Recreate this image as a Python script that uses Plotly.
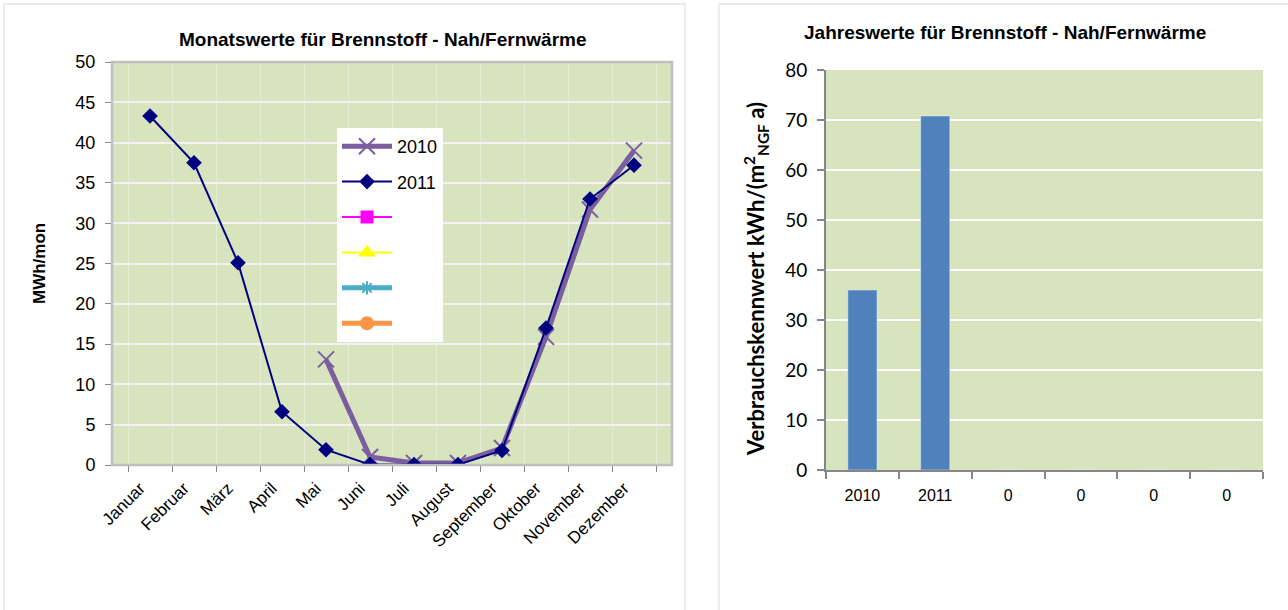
import plotly.graph_objects as go

# Monthly district-heating consumption (MWh/mon)
months = ["Januar", "Februar", "März", "April", "Mai", "Juni", "Juli",
          "August", "September", "Oktober", "November", "Dezember"]
values_2010 = [None, None, None, None, 13.1, 1.0, 0.25, 0.25, 2.1, 15.9, 31.7, 39.0]
values_2011 = [43.3, 37.5, 25.1, 6.6, 1.9, 0.05, 0.05, 0.05, 1.8, 17.0, 33.0, 37.2]

# Annual consumption index kWh/(m² NGF a)
years = ["2010", "2011", "0", "0", "0", "0"]
annual_values = [36.0, 70.8, 0, 0, 0, 0]

W, H = 1288, 610
FONT = "Liberation Sans, Arial, sans-serif"
PLOT_BG = "#D7E4BD"
AXIS_GRAY = "#868686"


def px_x(v):
    return v / W


def px_y(v):
    return 1 - v / H


fig = go.Figure()

# ---- left: monthly line chart ----
fig.add_trace(go.Scatter(
    x=months, y=values_2010, name="2010", mode="lines+markers",
    line=dict(color="#7B5EA0", width=5),
    marker=dict(symbol="x-thin", size=16, line=dict(color="#7B5EA0", width=2)),
    legendgroup="a", xaxis="x", yaxis="y", connectgaps=False,
))
fig.add_trace(go.Scatter(
    x=months, y=values_2011, name="2011", mode="lines+markers",
    line=dict(color="#000080", width=2),
    marker=dict(symbol="diamond", size=12, color="#000080"),
    legendgroup="b", xaxis="x", yaxis="y",
))

# unused series slots (no data)
empty_series = [
    dict(color="#FF00FF", width=2, symbol="square", size=11),
    dict(color="#FFFF00", width=2, symbol="triangle-up", size=12),
    dict(color="#4BACC6", width=5, symbol="asterisk", size=11),
    dict(color="#F79646", width=5, symbol="circle", size=12),
]
for i, s in enumerate(empty_series):
    fig.add_trace(go.Scatter(
        x=[None], y=[None], name=" ", mode="lines+markers",
        line=dict(color=s["color"], width=s["width"]),
        marker=dict(symbol=s["symbol"], size=s["size"], color=s["color"],
                    line=dict(color=s["color"], width=2)),
        legendgroup=f"e{i}", xaxis="x", yaxis="y",
    ))

# ---- right: annual bar chart ----
fig.add_trace(go.Bar(
    x=list(range(len(years))), y=annual_values, marker_color="#4F81BD",
    width=0.4, showlegend=False, xaxis="x2", yaxis="y2",
))

left_dom_x = [px_x(112), px_x(672)]
left_dom_y = [px_y(465), px_y(62)]
right_dom_x = [px_x(826), px_x(1263)]
right_dom_y = [px_y(470), px_y(70)]

fig.update_layout(
    width=W, height=H, autosize=False,
    margin=dict(l=0, r=0, t=0, b=0, pad=0, autoexpand=False),
    paper_bgcolor="white",
    plot_bgcolor=PLOT_BG,
    font=dict(family=FONT, color="black"),
    xaxis=dict(
        domain=left_dom_x, anchor="y", type="category", automargin=False,
        tickson="boundaries", ticks="outside", ticklen=6, tickcolor=AXIS_GRAY,
        showgrid=True, gridcolor="#E6EDD6", gridwidth=1,
        tickangle=-45, tickfont=dict(size=17, family=FONT),
        ticklabelstandoff=9, ticklabelshift=-10,
        showline=False, zeroline=False,
    ),
    yaxis=dict(
        domain=left_dom_y, anchor="x", range=[0, 50], dtick=5, automargin=False,
        ticks="outside", ticklen=6, tickcolor=AXIS_GRAY,
        showgrid=True, gridcolor="#F2F2F2", gridwidth=1.5,
        tickfont=dict(size=18, family=FONT), ticklabelstandoff=6,
        showline=False, zeroline=False,
    ),
    xaxis2=dict(
        domain=right_dom_x, anchor="y2", range=[-0.5, len(years) - 0.5],
        automargin=False,
        tickmode="array", tickvals=list(range(len(years))), ticktext=years,
        ticks="", showgrid=False, zeroline=False,
        showline=True, linecolor=AXIS_GRAY, linewidth=2,
        tickfont=dict(size=16, family=FONT), ticklabelstandoff=10,
        minor=dict(tickmode="array",
                   tickvals=[i - 0.5 for i in range(len(years) + 1)],
                   ticks="outside", ticklen=7, tickcolor=AXIS_GRAY, tickwidth=2,
                   showgrid=False),
    ),
    yaxis2=dict(
        domain=right_dom_y, anchor="x2", range=[0, 80], dtick=10,
        automargin=False,
        ticks="outside", ticklen=7, tickcolor=AXIS_GRAY, tickwidth=2,
        showgrid=True, gridcolor="white", gridwidth=2,
        showline=True, linecolor=AXIS_GRAY, linewidth=2,
        tickfont=dict(size=19, family="Lato, sans-serif"), ticklabelstandoff=6,
        zeroline=False,
    ),
    legend=dict(
        x=px_x(337), y=px_y(128), xanchor="left", yanchor="top",
        bgcolor="white", borderwidth=0,
        font=dict(size=18, family=FONT),
        tracegroupgap=9, itemwidth=50,
    ),
    bargap=0.6,
)

# panel frames
fig.add_shape(type="rect", xref="paper", yref="paper",
              x0=px_x(4), x1=px_x(685), y0=px_y(640), y1=px_y(4),
              line=dict(color="#D9D9D9", width=1), fillcolor="rgba(0,0,0,0)",
              layer="below")
fig.add_shape(type="rect", xref="paper", yref="paper",
              x0=px_x(719), x1=px_x(1310), y0=px_y(640), y1=px_y(4),
              line=dict(color="#D9D9D9", width=1), fillcolor="rgba(0,0,0,0)",
              layer="below")
# plot-area border of the monthly chart
fig.add_shape(type="rect", xref="x domain", yref="y domain",
              x0=0, x1=1, y0=0, y1=1,
              line=dict(color="#BFBFBF", width=2.5), fillcolor="rgba(0,0,0,0)",
              layer="above")

# titles
title_font = dict(size=19, family=FONT)
fig.add_annotation(text="<b>Monatswerte für Brennstoff - Nah/Fernwärme</b>",
                   x=px_x(383), y=px_y(40), xref="paper", yref="paper",
                   xanchor="center", yanchor="middle",
                   showarrow=False, font=title_font)
fig.add_annotation(text="<b>Jahreswerte für Brennstoff - Nah/Fernwärme</b>",
                   x=px_x(1005), y=px_y(32), xref="paper", yref="paper",
                   xanchor="center", yanchor="middle",
                   showarrow=False, font=title_font)
fig.add_annotation(text="<b>MWh/mon</b>", textangle=-90,
                   x=px_x(40), y=px_y(264), xref="paper", yref="paper",
                   xanchor="center", yanchor="middle",
                   showarrow=False, font=dict(size=17, family=FONT))
fig.add_annotation(text="<b>Verbrauchskennwert kWh/(m<sup>2</sup><sub>NGF</sub> a)</b>",
                   textangle=-90,
                   x=px_x(756), y=px_y(279), xref="paper", yref="paper",
                   xanchor="center", yanchor="middle",
                   showarrow=False, font=dict(size=22, family="Lato, sans-serif"))

fig.write_html("out.html")
